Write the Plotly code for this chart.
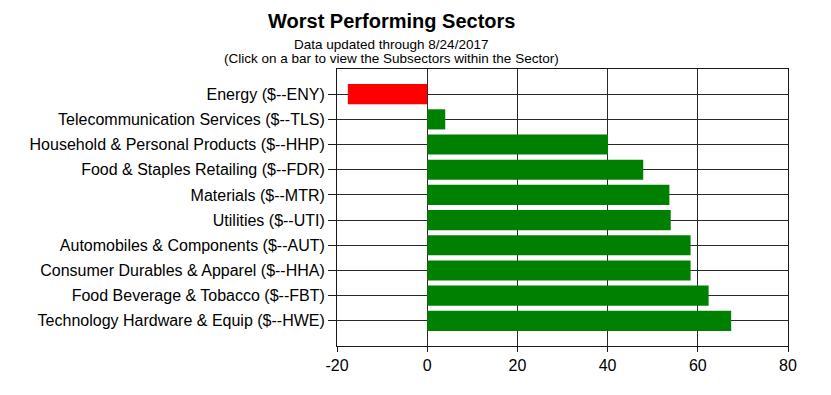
import plotly.graph_objects as go

categories = [
    "Energy ($--ENY)",
    "Telecommunication Services ($--TLS)",
    "Household & Personal Products ($--HHP)",
    "Food & Staples Retailing ($--FDR)",
    "Materials ($--MTR)",
    "Utilities ($--UTI)",
    "Automobiles & Components ($--AUT)",
    "Consumer Durables & Apparel ($--HHA)",
    "Food Beverage & Tobacco ($--FBT)",
    "Technology Hardware & Equip ($--HWE)",
]
values = [-17.6, 4.0, 40.1, 47.9, 53.7, 54.0, 58.4, 58.4, 62.4, 67.4]
colors = ["#FF0000" if v < 0 else "#008000" for v in values]
x_ticks = [-20, 0, 20, 40, 60, 80]
x_ticktext = ["-20", "0", "20", "40", "60", "80"]

title = "Worst Performing Sectors"
subtitle1 = "Data updated through 8/24/2017"
subtitle2 = "(Click on a bar to view the Subsectors within the Sector)"

fig = go.Figure(go.Bar(
    x=values, y=categories, orientation="h",
    marker=dict(color=colors, line=dict(width=0)),
    width=0.8,
))

# page body has an 8px offset; margins compensate so the plot lands where the reference has it
L, R, T, B = 329, 51, 61, 57
W, H = 831, 395
OFF = 8

font = "Liberation Sans, Arial, sans-serif"
fig.update_layout(
    width=W, height=H,
    margin=dict(l=L, r=R, t=T, b=B),
    paper_bgcolor="white", plot_bgcolor="white",
    showlegend=False,
    font=dict(family=font, size=16, color="#000000"),
    xaxis=dict(
        range=[-20, 80], tickvals=x_ticks, ticktext=x_ticktext, showgrid=True,
        gridcolor="#2a2a2a", gridwidth=1, zeroline=False,
        showline=True, linecolor="#1a1a1a", linewidth=1, mirror=True,
        ticks="outside", ticklen=5, tickcolor="#1a1a1a",
        tickfont=dict(size=16, color="#000000"),
    ),
    yaxis=dict(
        type="category", categoryorder="array", categoryarray=categories,
        range=[10, -1], showgrid=True, gridcolor="#2a2a2a", gridwidth=1,
        showline=True, linecolor="#1a1a1a", linewidth=1, mirror=True,
        ticks="outside", ticklen=8, tickcolor="#1a1a1a",
        tickfont=dict(size=16, color="#000000"),
    ),
)

pw = W - L - R
ph = H - T - B

def px_to_paper(xp, yp):
    # xp, yp: target screen pixels (top-left origin) in the screenshot
    return (xp - OFF - L) / pw, 1 - (yp - OFF - T) / ph

for text, xp, yp, size in [
    ("<b>" + title + "</b>", 391, 21, 20),
    (subtitle1, 391, 44, 13.5),
    (subtitle2, 391, 58, 13.5),
]:
    ax, ay = px_to_paper(xp, yp)
    fig.add_annotation(text=text, x=ax, y=ay, xref="paper", yref="paper",
                       xanchor="center", yanchor="middle", showarrow=False,
                       font=dict(size=size, family=font, color="#000000"))

fig.write_html("out.html")
